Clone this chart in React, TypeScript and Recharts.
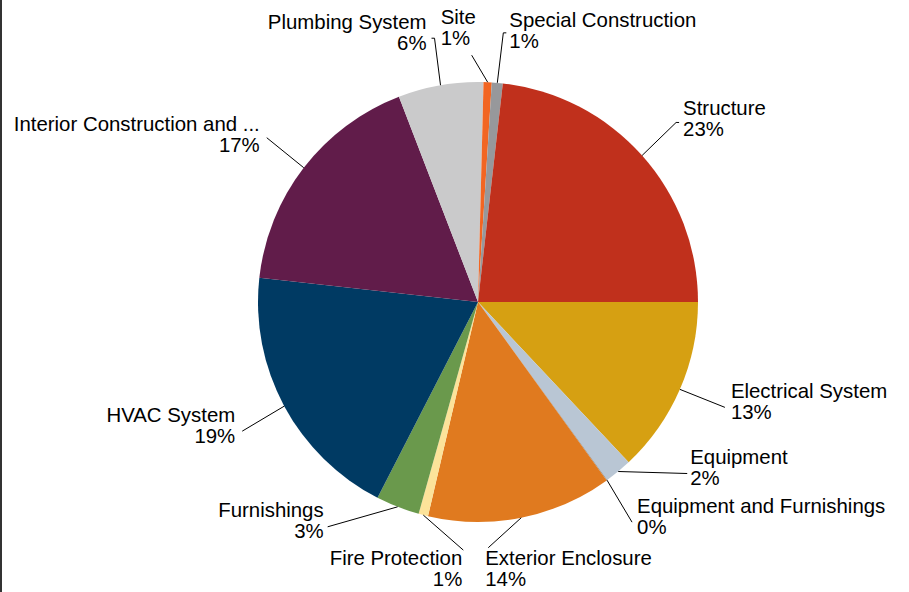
import { PieChart, Pie, Cell } from 'recharts'

// cost share by building system (percent of total)
const CATEGORIES = [
  'Electrical System',
  'Equipment',
  'Equipment and Furnishings',
  'Exterior Enclosure',
  'Fire Protection',
  'Furnishings',
  'HVAC System',
  'Interior Construction and ...',
  'Plumbing System',
  'Site',
  'Special Construction',
  'Structure',
]
const VALUES = [13.0, 2.0, 0.05, 13.6, 0.7, 3.2, 19.2, 17.4, 6.25, 0.6, 0.8, 23.2]
const COLORS = [
  '#d6a012', '#b9c6d4', '#8c8c8c', '#e07a1f', '#fce39a', '#6a994c',
  '#003a63', '#611c4a', '#cacacb', '#f26522', '#97989b', '#c0301c',
]

// leader line elbow offset from slice edge, then text offset from elbow
const LABEL_LAYOUT = [
  { dx: 45, dy: 18, stub: 0, anchor: 'start', tx: 6, ty: -9 },
  { dx: 69, dy: 2, stub: 0, anchor: 'start', tx: 3, ty: -10 },
  { dx: 25, dy: 42, stub: 0, anchor: 'start', tx: 5, ty: -9 },
  { dx: -33, dy: 30, stub: 0, anchor: 'start', tx: -3, ty: 17 },
  { dx: 40, dy: 35, stub: 0, anchor: 'end', tx: -1, ty: 15 },
  { dx: -70, dy: 20, stub: 0, anchor: 'end', tx: -4, ty: -10 },
  { dx: -42, dy: 25, stub: 0, anchor: 'end', tx: -7, ty: -9 },
  { dx: -37, dy: -30, stub: 0, anchor: 'end', tx: -7, ty: -7 },
  { dx: -6, dy: -47, stub: -3, anchor: 'end', tx: -8, ty: -9 },
  { dx: -16, dy: -27, stub: 0, anchor: 'start', tx: -31, ty: -31 },
  { dx: 6, dy: -50, stub: 3, anchor: 'start', tx: 6, ty: -6 },
  { dx: 34, dy: -33, stub: 3, anchor: 'start', tx: 7, ty: -7 },
]

const data = CATEGORIES.map((name, i) => ({ name, value: VALUES[i] }))

const RAD = Math.PI / 180

function renderLabel(props: any) {
  const { cx, cy, midAngle, outerRadius, percent, index, name } = props
  const sx = cx + outerRadius * Math.cos(-midAngle * RAD)
  const sy = cy + outerRadius * Math.sin(-midAngle * RAD)
  const L = LABEL_LAYOUT[index]
  const ex = sx + L.dx
  const ey = sy + L.dy
  const tx = ex + L.tx
  const ty = ey + L.ty
  const pts = `${sx},${sy} ${ex},${ey} ${ex + L.stub},${ey}`
  return (
    <g>
      <polyline points={pts} stroke="#000" strokeWidth={1} fill="none" />
      <text x={tx} y={ty} textAnchor={L.anchor} fontSize={20.4} fill="#000"
        fontFamily='"Liberation Sans", Arial, sans-serif'>
        <tspan x={tx} dy={0}>{name}</tspan>
        <tspan x={tx} dy={21}>{Math.round(percent * 100)}%</tspan>
      </text>
    </g>
  )
}

export default function App() {
  return (
    <div style={{
      position: 'fixed', left: 0, top: 0, width: 909, height: 592,
      background: '#fff', borderLeft: '2px solid #333', boxSizing: 'border-box',
    }}>
      <PieChart width={907} height={592} margin={{ top: 0, right: 0, bottom: 0, left: 0 }}>
        <Pie
          data={data}
          dataKey="value"
          nameKey="name"
          cx={476}
          cy={302}
          outerRadius={220}
          startAngle={0}
          endAngle={-360}
          stroke="none"
          label={renderLabel}
          labelLine={false}
          isAnimationActive={false}
        >
          {data.map((d, i) => (
            <Cell key={d.name} fill={COLORS[i]} />
          ))}
        </Pie>
      </PieChart>
    </div>
  )
}
